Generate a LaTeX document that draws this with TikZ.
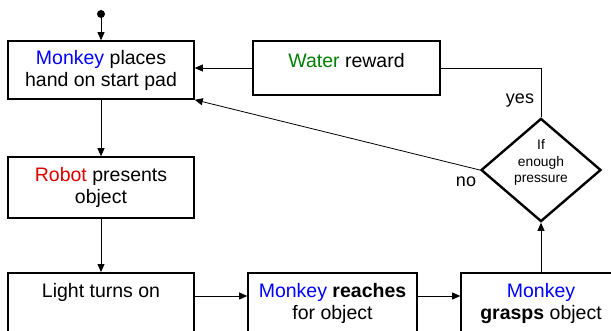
\documentclass[tikz,border=0pt]{standalone}
\usepackage{fontspec}
\setmainfont{Liberation Sans}
\usetikzlibrary{shapes.geometric,arrows.meta}
\definecolor{mblue}{RGB}{0,0,255}
\definecolor{mgreen}{RGB}{0,128,0}
\definecolor{mred}{RGB}{220,0,0}
\begin{document}
\begin{tikzpicture}[x=1pt,y=-1pt,
  box/.style={draw, line width=1.6pt, align=center, inner sep=0pt,
    font=\fontsize{19.5}{22}\selectfont},
  conn/.style={line width=0.8pt, -{Triangle[length=8pt,width=7pt]}},
  plain/.style={line width=0.8pt},
  lbl/.style={font=\fontsize{18}{20}\selectfont, inner sep=0pt}]
\useasboundingbox (0,0) rectangle (611,330);
\clip (0,0) rectangle (611,330);
\node[box, minimum width=186pt, minimum height=58pt] (b1) at (101,70)
  {\textcolor{mblue}{Monkey} places\\hand on start pad};
\node[box, minimum width=186pt, minimum height=61pt] (b2) at (101,187.5)
  {\textcolor{mred}{Robot} presents\\object};
\node[box, minimum width=187pt, minimum height=54pt] (water) at (346.5,68)
  {\textcolor{mgreen}{Water} reward\\[-6pt]\mbox{}};
\node[box, anchor=north, minimum width=186pt, minimum height=80pt] (b3) at (101,272)
  {Light turns on\\\mbox{}\\\mbox{}};
\node[box, anchor=north, minimum width=169pt, minimum height=80pt] (b4) at (332.5,272)
  {\textcolor{mblue}{Monkey} \textbf{reaches}\\for object\\\mbox{}};
\node[box, anchor=north, minimum width=160pt, minimum height=80pt] (b5) at (541,272)
  {\textcolor{mblue}{Monkey}\\\textbf{grasps} object\\\mbox{}};
\node[draw, diamond, line width=2.4pt, minimum width=120pt, minimum height=103pt,
  inner sep=0pt, font=\fontsize{13.8}{16.5}\selectfont] (dia) at (541,170)
  {\raisebox{7pt}[\height][\depth]{\begin{tabular}{@{}c@{}}If\\enough\\pressure\end{tabular}}};
\node[lbl] (yes) at (520,101) {yes};
\node[lbl] (no) at (466,182) {no};
\coordinate (start) at (101,14);
\fill (start) circle (4pt);
\draw[conn] (start) -- (b1.north);
\draw[conn] (b1.south) -- (b2.north);
\draw[conn] (b2.south) -- (b3.north);
\draw[conn] ([yshift=-24pt]b3.north east) -- ([yshift=-24pt]b4.north west);
\draw[conn] ([yshift=-24pt]b4.north east) -- ([yshift=-24pt]b5.north west);
\draw[conn] (b5.north) -- (dia.south);
\draw[plain] (dia.north) |- (water.east);
\draw[conn] (water.west) -- (water.west -| b1.east);
\draw[conn] (dia.west) -- (b1.south east);
\end{tikzpicture}
\end{document}
